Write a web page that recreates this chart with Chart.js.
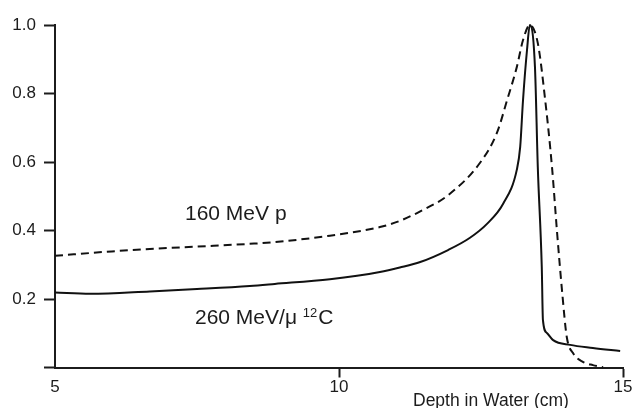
<!DOCTYPE html>
<html>
<head>
<meta charset="utf-8">
<script src="https://cdn.jsdelivr.net/npm/chart.js@4/dist/chart.umd.min.js"></script>
<style>
  html, body { margin: 0; padding: 0; background: #fff; }
  #wrap { width: 634px; height: 408px; }
</style>
</head>
<body>
<div id="wrap"><canvas id="c" width="634" height="408"></canvas></div>
<script>
// Relative dose vs depth in water for a carbon beam and a proton beam
const depthCarbon = [5.0, 5.62, 6.67, 7.5, 8.43, 8.87, 9.84, 10.72, 11.07, 11.43, 11.92, 12.30, 12.61, 12.89, 13.13, 13.19, 13.24, 13.31, 13.36, 13.45, 13.50, 13.57, 13.59, 13.66, 13.77, 14.07, 14.47, 14.95];
const doseCarbon  = [0.219, 0.215, 0.222, 0.229, 0.238, 0.244, 0.258, 0.279, 0.292, 0.308, 0.343, 0.378, 0.420, 0.478, 0.577, 0.644, 0.781, 0.927, 1.0, 0.877, 0.585, 0.293, 0.139, 0.101, 0.080, 0.066, 0.057, 0.048];

const depthProton = [5.0, 6.0, 6.67, 7.5, 8.43, 8.87, 9.84, 10.72, 11.07, 11.43, 11.92, 12.48, 12.78, 12.96, 13.13, 13.24, 13.36, 13.50, 13.63, 13.75, 13.84, 13.93, 14.01, 14.12, 14.30, 14.47, 14.65];
const doseProton  = [0.326, 0.339, 0.346, 0.353, 0.361, 0.366, 0.385, 0.410, 0.428, 0.456, 0.503, 0.597, 0.685, 0.781, 0.877, 0.956, 1.0, 0.947, 0.781, 0.585, 0.393, 0.218, 0.089, 0.042, 0.016, 0.007, 0.001];

const xTicks = [5, 10, 15];
const yTicks = [0, 0.2, 0.4, 0.6, 0.8, 1.0];
const xTitle = 'Depth in Water (cm)';
const labelProton = '160 MeV p';
const labelCarbon = '260 MeV/\u03bc ';
const labelCarbonSup = '12';
const labelCarbonIon = 'C';

const ink = '#1c1c1c';
const fontFamily = '"Liberation Sans", Arial, sans-serif';

function toPoints(xs, ys) { return xs.map((x, i) => ({ x: x, y: ys[i] })); }

// Curve labels and the offset axis title
const textPlugin = {
  id: 'curveText',
  afterDraw(chart) {
    const ctx = chart.ctx;
    ctx.save();
    ctx.fillStyle = ink;
    ctx.textBaseline = 'alphabetic';
    ctx.textAlign = 'left';
    ctx.font = '21px ' + fontFamily;
    ctx.fillText(labelProton, 185, 220);
    ctx.fillText(labelCarbon, 195, 324);
    let w = ctx.measureText(labelCarbon).width;
    ctx.font = '13px ' + fontFamily;
    ctx.fillText(labelCarbonSup, 195 + w, 317);
    const w2 = ctx.measureText(labelCarbonSup).width;
    ctx.font = '21px ' + fontFamily;
    ctx.fillText(labelCarbonIon, 195 + w + w2 + 1, 324);
    ctx.font = '17.5px ' + fontFamily;
    ctx.fillText(xTitle, 413, 406);
    ctx.restore();
  }
};

new Chart(document.getElementById('c'), {
  type: 'line',
  data: {
    datasets: [
      {
        label: '260 MeV/u 12C',
        data: toPoints(depthCarbon, doseCarbon),
        borderColor: '#111',
        borderWidth: 2,
        pointRadius: 0,
        cubicInterpolationMode: 'monotone',
        fill: false,
        clip: false
      },
      {
        label: '160 MeV p',
        data: toPoints(depthProton, doseProton),
        borderColor: '#111',
        borderWidth: 2,
        borderDash: [8, 5],
        pointRadius: 0,
        cubicInterpolationMode: 'monotone',
        fill: false,
        clip: false
      }
    ]
  },
  options: {
    responsive: false,
    animation: false,
    devicePixelRatio: 1,
    layout: { padding: { top: 25, right: 11, left: 0, bottom: 0 } },
    plugins: { legend: { display: false }, tooltip: { enabled: false } },
    scales: {
      x: {
        type: 'linear',
        min: 5,
        max: 15,
        afterBuildTicks(scale) { scale.ticks = xTicks.map(v => ({ value: v })); },
        afterFit(scale) { scale.height = 40.5; },
        border: { display: true, color: ink, width: 2 },
        grid: {
          drawOnChartArea: false,
          drawTicks: true,
          tickLength: 10,
          tickWidth: 2,
          tickColor: (c) => (c.tick && c.tick.value === 5) ? 'rgba(0,0,0,0)' : ink
        },
        ticks: {
          color: ink,
          font: { family: fontFamily, size: 17 },
          padding: 0,
          maxRotation: 0,
          autoSkip: false
        }
      },
      y: {
        type: 'linear',
        min: 0,
        max: 1.0,
        afterBuildTicks(scale) { scale.ticks = yTicks.map(v => ({ value: v })); },
        afterFit(scale) { scale.width = 55; },
        border: { display: true, color: ink, width: 2 },
        grid: {
          drawOnChartArea: false,
          drawTicks: true,
          tickLength: 11,
          tickWidth: 2,
          tickColor: ink
        },
        ticks: {
          color: ink,
          font: { family: fontFamily, size: 17 },
          padding: 8,
          autoSkip: false,
          callback: (v) => v === 0 ? '' : v.toFixed(1)
        }
      }
    }
  },
  plugins: [textPlugin]
});
</script>
</body>
</html>
